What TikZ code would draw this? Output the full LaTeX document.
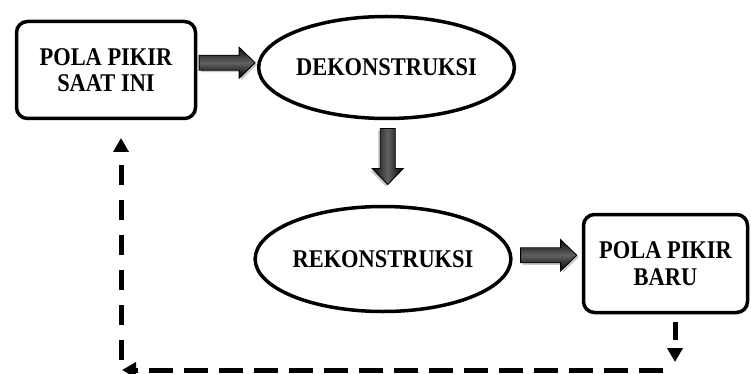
\documentclass[tikz,border=0pt]{standalone}
\usepackage{fontspec}
\setmainfont{Liberation Serif}
\newfontfamily\labelfont{Liberation Serif}[FakeStretch=0.88]
\usetikzlibrary{shapes.geometric,arrows.meta,calc}

\tikzset{
  stagebox/.style={draw, line width=3.5pt, rounded corners=11pt, align=center,
    inner sep=0pt, font=\labelfont\bfseries\fontsize{25.5}{26.5}\selectfont},
  phase/.style={draw, ellipse, line width=3.5pt, inner sep=0pt,
    font=\labelfont\bfseries\fontsize{25.5}{26.5}\selectfont},
  feedback/.style={line width=5pt, -{Triangle[width=15pt,length=14pt]}},
  pics/blockarrow/.style={code={
    % soft shadow
    \fill[black!22, shift={(2,-2)}] (-28,-7.5) -- (12,-7.5) -- (12,-15.5) -- (28,0)
      -- (12,15.5) -- (12,7.5) -- (-28,7.5) -- cycle;
    % arrow body
    \draw[line width=0.9pt, top color=black!95, bottom color=black,
      middle color=black!62, shading angle=#1]
      (-28,-7.5) -- (12,-7.5) -- (12,-15.5) -- (28,0)
      -- (12,15.5) -- (12,7.5) -- (-28,7.5) -- cycle;
  }},
}

\begin{document}
\begin{tikzpicture}[x=1pt, y=1pt]

    \useasboundingbox (0,0) rectangle (751,-374);

    % Mindsets (rounded boxes)
    \node[stagebox, minimum width=179pt, minimum height=97pt] (now) at (106,-70) {POLA PIKIR\\SAAT INI};
    \node[stagebox, minimum width=164pt, minimum height=98pt] (new) at (665.5,-263.5) {POLA PIKIR\\BARU};

    % Phases (ellipses)
    \node[phase, minimum width=224pt, minimum height=102pt] (dekon) at (386.5,-67.5) {DEKONSTRUKSI};
    \node[phase, minimum width=215pt, minimum height=105pt] (rekon) at (383,-259) {REKONSTRUKSI};

    % Block arrows between the steps
    \pic at ($(now.east)!0.5!(dekon.west)+(0,6)$) {blockarrow=0};
    \pic[rotate=-90] at ($(dekon.south)!0.5!(rekon.north)+(3,6)$) {blockarrow=90};
    \pic at ($(rekon.east)!0.5!(new.west)+(1.5,6)$) {blockarrow=0};

    % Feedback loop (dashed)
    \coordinate (drop) at (675,-362);
    \coordinate (cornerR) at (663,-370);
    \coordinate (cornerL) at (122,-370);
    \coordinate (cornerB) at (121,-360);
    \coordinate (rise) at (121,-138);
    \draw[feedback, dash pattern=on 18pt off 10pt] ([xshift=9.5pt,yshift=-8pt]new.south) -- (drop);
    \draw[feedback, dash pattern=on 24pt off 11pt] (cornerR) -- (cornerL);
    \draw[feedback, dash pattern=on 20pt off 15pt] (cornerB) -- (rise);

\end{tikzpicture}
\end{document}
